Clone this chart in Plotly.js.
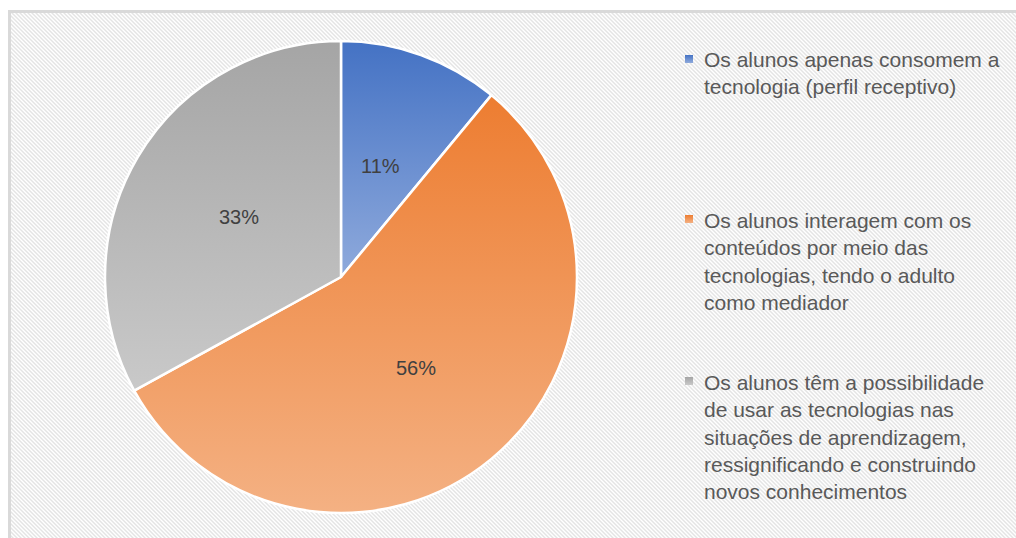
<!DOCTYPE html>
<html><head><meta charset="utf-8">
<script src="https://cdn.plot.ly/plotly-3.0.1.min.js"></script>
<style>
html,body{margin:0;padding:0;background:#fff;width:1016px;height:538px;overflow:hidden}
#frame{position:absolute;left:8px;top:10px;width:1100px;height:600px;border:3px solid #d9d9d9;box-sizing:border-box;
background-color:#fff;
background-image:url("data:image/svg+xml,%3Csvg xmlns='http://www.w3.org/2000/svg' width='4' height='4'%3E%3Cpolygon points='0,0 2,0 4,2 4,4' fill='%23e4e4e4'/%3E%3Cpolygon points='0,2 2,4 0,4' fill='%23e4e4e4'/%3E%3C/svg%3E");}
#chart{position:absolute;left:0;top:0;width:1016px;height:538px}
</style></head>
<body>
<div id="frame"></div>
<div id="chart"></div>
<script>
const labels = [
  "Os alunos apenas consomem a<br>tecnologia (perfil receptivo)",
  "Os alunos interagem com os<br>conteúdos por meio das<br>tecnologias, tendo o adulto<br>como mediador",
  "Os alunos têm a possibilidade<br>de usar as tecnologias nas<br>situações de aprendizagem,<br>ressignificando e construindo<br>novos conhecimentos"
];
const values = [11, 56, 33];
const colorsTop = ["#4472c4", "#ed7d31", "#a5a5a5"];
const colorsBottom = ["#8faadc", "#f4b183", "#c9c9c9"];

const W = 1016, H = 538;
const px = x => x / W, py = y => 1 - y / H;

// pie geometry (pixels)
const cx = 341, cy = 277, R = 236;
const labelRadius = 0.5;

// legend layout (pixels)
const legendTextX = 702;
const legendFirstLineY = [59, 219, 381];
const lineH = 28;

const legendAnnotations = labels.map((t, i) => {
  const n = t.split("<br>").length;
  return {
    xref: "paper", yref: "paper", x: px(legendTextX), xanchor: "left",
    y: py(legendFirstLineY[i] + (n - 1) * lineH / 2), yanchor: "middle",
    text: t, showarrow: false, align: "left",
    font: {family: "Liberation Sans, Arial, sans-serif", size: 21, color: "#595959"}
  };
});

// percentage labels placed at mid-angle of each slice, computed from the values
const total = values.reduce((a, b) => a + b, 0);
let cum = 0;
const pctAnnotations = values.map(v => {
  const mid = (cum + v / 2) / total * 2 * Math.PI;
  cum += v;
  return {
    xref: "paper", yref: "paper",
    x: px(cx + labelRadius * R * Math.sin(mid)), y: py(cy - labelRadius * R * Math.cos(mid)),
    xanchor: "center", yanchor: "middle", showarrow: false,
    text: Math.round(v / total * 100) + "%",
    font: {family: "Liberation Sans, Arial, sans-serif", size: 20, color: "#404040"}
  };
});

const shapes = labels.map((t, i) => ({
  type: "rect", xref: "paper", yref: "paper",
  x0: px(685), x1: px(693), y0: py(legendFirstLineY[i] - 4), y1: py(legendFirstLineY[i] + 4),
  line: {width: 0}, fillcolor: colorsTop[i]
}));

const data = [{
  type: "pie", values: values, labels: labels, sort: false, direction: "clockwise", rotation: 0,
  textinfo: "none",
  marker: {colors: colorsTop, line: {color: "#ffffff", width: 2.5}},
  domain: {x: [px(cx - R), px(cx + R)], y: [py(cy + R), py(cy - R)]},
  showlegend: false, hoverinfo: "none"
}];
const layout = {
  width: W, height: H, margin: {l: 0, r: 0, t: 0, b: 0},
  paper_bgcolor: "rgba(0,0,0,0)", plot_bgcolor: "rgba(0,0,0,0)",
  showlegend: false, annotations: legendAnnotations.concat(pctAnnotations), shapes: shapes
};
const gd = document.getElementById("chart");
Plotly.newPlot(gd, data, layout, {staticPlot: true}).then(() => {
  const ns = "http://www.w3.org/2000/svg";
  const svg = gd.querySelector("svg.main-svg");
  let defs = svg.querySelector("defs");
  if (!defs) { defs = document.createElementNS(ns, "defs"); svg.insertBefore(defs, svg.firstChild); }
  colorsTop.forEach((c, i) => {
    const lg = document.createElementNS(ns, "linearGradient");
    lg.setAttribute("id", "grad" + i);
    lg.setAttribute("x1", "0"); lg.setAttribute("y1", "0"); lg.setAttribute("x2", "0"); lg.setAttribute("y2", "1");
    [[0, c], [1, colorsBottom[i]]].forEach(([o, col]) => {
      const s = document.createElementNS(ns, "stop");
      s.setAttribute("offset", o); s.setAttribute("stop-color", col);
      lg.appendChild(s);
    });
    defs.appendChild(lg);
  });
  gd.querySelectorAll("g.slice path.surface").forEach((p, i) => { p.style.fill = "url(#grad" + i + ")"; });
  gd.querySelectorAll(".shapelayer path").forEach((p, i) => { p.style.fill = "url(#grad" + i + ")"; });
});
</script>
</body></html>
